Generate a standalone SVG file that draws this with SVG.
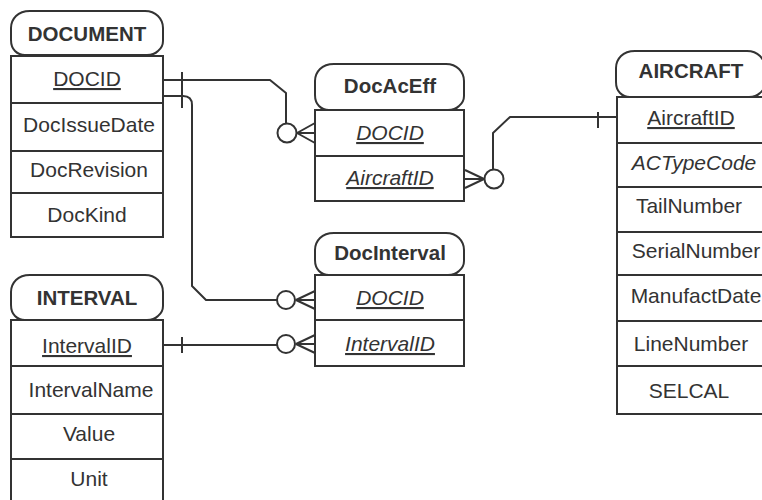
<svg xmlns="http://www.w3.org/2000/svg" width="762" height="500" viewBox="0 0 762 500">
<style>
.hd{fill:#fff;stroke:#333;stroke-width:2;stroke-linejoin:round}
.tb{fill:#fff;stroke:#333;stroke-width:2}
.dv{stroke:#333;stroke-width:2}
.ht{font-family:"Liberation Sans",Arial,sans-serif;font-size:20.5px;font-weight:bold;fill:#333;text-anchor:middle}
.t{font-family:"Liberation Sans",Arial,sans-serif;font-size:21px;fill:#333;text-anchor:middle}
.u{text-decoration:underline}
.i{font-style:italic}
.c{fill:none;stroke:#333;stroke-width:2;stroke-linejoin:round}
.o{fill:#fff;stroke:#333;stroke-width:2}
</style>
<rect width="762" height="500" fill="#fff"/>

<g id="DOCUMENT">
<path class="hd" d="M30,11 H145 Q153,11 158,16 Q163,21 163,28 V41 Q163,47 158,51 Q154,55 147,55 H25 Q19,55 15,51 Q11,47 11,40 V28 Q11,21 16,16 Q21,11 30,11 Z"/>
<text class="ht" x="87" y="41">DOCUMENT</text>
<rect class="tb" x="11" y="56" width="152" height="181"/>
<line class="dv" x1="11" y1="103" x2="163" y2="103"/>
<line class="dv" x1="11" y1="151" x2="163" y2="151"/>
<line class="dv" x1="11" y1="193" x2="163" y2="193"/>
<text class="t u" x="87" y="86">DOCID</text>
<text class="t" x="89" y="132">DocIssueDate</text>
<text class="t" x="89" y="177">DocRevision</text>
<text class="t" x="87" y="222">DocKind</text>
</g>

<g id="INTERVAL">
<path class="hd" d="M30,275 H145 Q153,275 158,280 Q163,285 163,292 V306 Q163,312 158,316 Q154,320 147,320 H25 Q19,320 15,316 Q11,312 11,305 V292 Q11,285 16,280 Q21,275 30,275 Z"/>
<text class="ht" x="87" y="305">INTERVAL</text>
<rect class="tb" x="11" y="320" width="152" height="195"/>
<line class="dv" x1="11" y1="366" x2="163" y2="366"/>
<line class="dv" x1="11" y1="414" x2="163" y2="414"/>
<line class="dv" x1="11" y1="459" x2="163" y2="459"/>
<text class="t u" x="87" y="353">IntervalID</text>
<text class="t" x="91" y="397">IntervalName</text>
<text class="t" x="89" y="441">Value</text>
<text class="t" x="89" y="486">Unit</text>
</g>

<g id="DocAcEff">
<path class="hd" d="M334,64 H446 Q454,64 459,69 Q464,74 464,81 V96 Q464,102 459,106 Q455,110 448,110 H329 Q323,110 319,106 Q315,102 315,95 V81 Q315,74 320,69 Q325,64 334,64 Z"/>
<text class="ht" x="390" y="93">DocAcEff</text>
<rect class="tb" x="315" y="110" width="149" height="91"/>
<line class="dv" x1="315" y1="156" x2="464" y2="156"/>
<text class="t u i" x="390" y="140">DOCID</text>
<text class="t u i" x="390" y="185">AircraftID</text>
</g>

<g id="DocInterval">
<path class="hd" d="M334,233 H446 Q454,233 459,238 Q464,243 464,250 V261 Q464,267 459,271 Q455,275 448,275 H329 Q323,275 319,271 Q315,267 315,260 V250 Q315,243 320,238 Q325,233 334,233 Z"/>
<text class="ht" x="390" y="260">DocInterval</text>
<rect class="tb" x="315" y="275" width="149" height="91"/>
<line class="dv" x1="315" y1="320" x2="464" y2="320"/>
<text class="t u i" x="390" y="305">DOCID</text>
<text class="t u i" x="390" y="351">IntervalID</text>
</g>

<g id="AIRCRAFT">
<path class="hd" d="M635,51 H747 Q755,51 760,56 Q765,61 765,68 V83 Q765,89 760,93 Q756,97 749,97 H630 Q624,97 620,93 Q616,89 616,82 V68 Q616,61 621,56 Q626,51 635,51 Z"/>
<text class="ht" x="691" y="78">AIRCRAFT</text>
<rect class="tb" x="617" y="97" width="149" height="317"/>
<line class="dv" x1="617" y1="143" x2="766" y2="143"/>
<line class="dv" x1="617" y1="187" x2="766" y2="187"/>
<line class="dv" x1="617" y1="232" x2="766" y2="232"/>
<line class="dv" x1="617" y1="275" x2="766" y2="275"/>
<line class="dv" x1="617" y1="321" x2="766" y2="321"/>
<line class="dv" x1="617" y1="366" x2="766" y2="366"/>
<text class="t u" x="691" y="125">AircraftID</text>
<text class="t i" x="694" y="170">ACTypeCode</text>
<text class="t" x="689" y="213">TailNumber</text>
<text class="t" x="696" y="258">SerialNumber</text>
<text class="t" x="696" y="303">ManufactDate</text>
<text class="t" x="691" y="351">LineNumber</text>
<text class="t" x="689" y="398">SELCAL</text>
</g>

<g id="connectors">
<path class="c" d="M163,80 H270 L286,93 V124"/>
<path class="c" d="M297,133 L315,123 M297,133 L315,133 M297,133 L315,143"/>
<circle class="o" cx="287" cy="133" r="9.5"/>
<line class="c" x1="182" y1="72" x2="182" y2="108"/>

<path class="c" d="M163,96 H183 Q192,96 192,105 V286 L206,300 H277"/>
<path class="c" d="M296,300 L315,291 M296,300 L315,300 M296,300 L315,309"/>
<circle class="o" cx="286" cy="300" r="9"/>

<path class="c" d="M163,345 H277"/>
<line class="c" x1="182" y1="337" x2="182" y2="353"/>
<path class="c" d="M296,344 L315,335 M296,344 L315,344 M296,344 L315,353"/>
<circle class="o" cx="286" cy="344" r="9"/>

<path class="c" d="M617,117 H510 L493,133 V169"/>
<line class="c" x1="598" y1="112" x2="598" y2="128"/>
<path class="c" d="M484,179 L465,170 M484,179 L465,179 M484,179 L465,188"/>
<circle class="o" cx="494" cy="179" r="9.5"/>
</g>
</svg>
